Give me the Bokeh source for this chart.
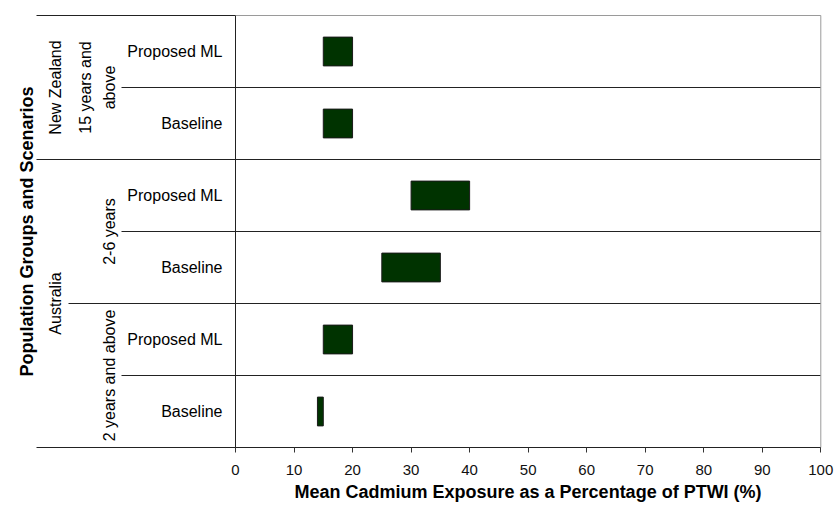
import math
from bokeh.plotting import figure
from bokeh.models import Range1d, FixedTicker, Title
from bokeh.core.properties import value
from bokeh.embed import file_html
from bokeh.resources import INLINE

# ---------------- data ----------------
countries = ["New Zealand", "Australia"]
groups = ["15 years and\nabove", "2-6 years", "2 years and above"]
group_country = ["New Zealand", "Australia", "Australia"]
# rows listed from top to bottom
row_group = [0, 0, 1, 1, 2, 2]
row_scenario = ["Proposed ML", "Baseline", "Proposed ML", "Baseline", "Proposed ML", "Baseline"]
exposure_low = [15, 15, 30, 25, 15, 14]
exposure_high = [20, 20, 40, 35, 20, 15]
x_ticks = [0, 10, 20, 30, 40, 50, 60, 70, 80, 90, 100]
x_title = "Mean Cadmium Exposure as a Percentage of PTWI (%)"
y_title = "Population Groups and Scenarios"

# ---------------- layout ----------------
FONT = "Liberation Sans"
S = 5.853            # px per x unit
FRAME_W = 823
ROW_PX = 72
PAD = 2.0 / ROW_PX
n_rows = len(row_scenario)
x0 = -235 / S
x1 = x0 + FRAME_W / S

def px(xpage):
    return (xpage - 235) / S

p = figure(width=837, frame_width=FRAME_W, frame_height=int(round((n_rows + 2 * PAD) * ROW_PX)),
           x_range=Range1d(x0, x1), y_range=Range1d(-PAD, n_rows + PAD),
           output_backend="svg", toolbar_location=None,
           min_border_left=0, min_border_right=14, min_border_top=13, min_border_bottom=40)
p.outline_line_color = None
p.xgrid.visible = False
p.ygrid.visible = False
p.yaxis.visible = False
p.background_fill_color = "white"
p.border_fill_color = "white"

ax = p.xaxis[0]
ax.ticker = FixedTicker(ticks=x_ticks, minor_ticks=[])
ax.bounds = (x_ticks[0], x_ticks[-1])
ax.axis_line_color = None
ax.major_tick_in = 2
ax.major_tick_out = 3
ax.minor_tick_in = 0
ax.minor_tick_out = 0
ax.major_tick_line_color = "#333333"
ax.major_label_text_font = FONT
ax.major_label_text_font_size = "15px"
ax.major_label_text_color = "#111111"
ax.major_label_standoff = 12

# x title, placed below the axis and started so that it is centred on the 0-100 scale
p.add_layout(Title(text=x_title, align="left", offset=294, vertical_align="middle",
                   standoff=6, text_font=FONT, text_font_size="18px",
                   text_font_style="bold", text_color="#000000"), "below")

ys = [n_rows - k - 0.5 for k in range(n_rows)]

# separator lines
DARK = "#222222"
GRAY = "#9a9a9a"
start_country = px(36)
start_group = px(68)
start_row = px(121)
seg_x0, seg_x1, seg_y, seg_c = [], [], [], []
for b in range(n_rows + 1):
    yb = n_rows - b
    if b == 0 or b == n_rows:
        st = start_country
    else:
        ga, gb = row_group[b - 1], row_group[b]
        if group_country[ga] != group_country[gb]:
            st = start_country
        elif ga != gb:
            st = start_group
        else:
            st = start_row
    if b == 0:
        seg_x0 += [st, 0]; seg_x1 += [0, 100]; seg_y += [yb, yb]; seg_c += [DARK, GRAY]
    else:
        seg_x0.append(st); seg_x1.append(100); seg_y.append(yb); seg_c.append(DARK)
p.segment(x0=seg_x0, y0=seg_y, x1=seg_x1, y1=seg_y, line_color=seg_c, line_width=1)
# vertical axis line and right border
p.segment(x0=[0, 100], y0=[0, 0], x1=[0, 100], y1=[n_rows, n_rows],
          line_color=[DARK, GRAY], line_width=1)

# bars
p.hbar(y=ys, left=exposure_low, right=exposure_high, height=0.4,
       fill_color="#003300", line_color="#1a1a1a", line_width=1)

# scenario labels
p.text(x=[px(222)] * n_rows, y=ys, text=row_scenario, text_align="right",
       text_baseline="middle", text_font=value(FONT), text_font_size="16px",
       text_color="#000000")

# group labels (rotated)
gx, gy, gt = [], [], []
for g, label in enumerate(groups):
    rows = [ys[k] for k in range(n_rows) if row_group[k] == g]
    yc = sum(rows) / len(rows)
    lines = label.split("\n")
    for j, line in enumerate(reversed(lines)):
        gx.append(px(108.5 - 24 * j)); gy.append(yc); gt.append(line)
p.text(x=gx, y=gy, text=gt, angle=math.pi / 2, text_align="center",
       text_baseline="alphabetic", text_font=value(FONT), text_font_size="16px",
       text_color="#000000")

# country labels
cx, cy = [], []
for c in countries:
    rows = [ys[k] for k in range(n_rows) if group_country[row_group[k]] == c]
    cx.append(px(55)); cy.append(sum(rows) / len(rows))
p.text(x=cx, y=cy, text=countries, angle=math.pi / 2, text_align="center",
       text_baseline="alphabetic", text_font=value(FONT), text_font_size="16px",
       text_color="#000000")

# y title
p.text(x=[px(26)], y=[n_rows / 2], text=[y_title], angle=math.pi / 2, text_align="center",
       text_baseline="alphabetic", text_font=value(FONT), text_font_size="18px",
       text_font_style="bold", text_color="#000000")

open("out.html", "w").write(file_html(p, INLINE))
